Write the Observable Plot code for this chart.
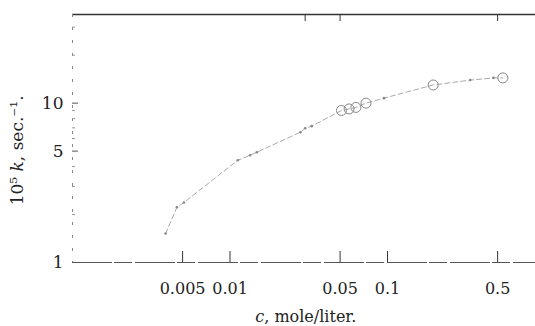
<!DOCTYPE html>
<html>
<head>
<meta charset="utf-8">
<script src="https://cdn.jsdelivr.net/npm/d3@7"></script>
<script src="https://cdn.jsdelivr.net/npm/@observablehq/plot@0.6"></script>
<style>
  html, body { margin: 0; padding: 0; background: #fff; }
  #chart svg { display: block; }
</style>
</head>
<body>
<div id="chart"></div>
<script>
// ---- data ----
const xDomain = [0.001, 0.87];
const yDomain = [1, 36];
const xTickValues = [0.005, 0.01, 0.05, 0.1, 0.5];
const xTickLabels = ["0.005", "0.01", "0.05", "0.1", "0.5"];
const xTopTicks = [0.03, 0.05, 0.5];
const yTickValues = [1, 5, 10];
const yTickLabels = ["1", "5", "10"];
const yMinorTicks = [2, 3, 4, 6, 7, 8, 9, 20, 30];

// small points (dots)
const dotC = [0.0039, 0.0046, 0.0051, 0.0112, 0.0134, 0.0148, 0.028, 0.030, 0.033, 0.095, 0.335, 0.47];
const dotK = [1.52, 2.22, 2.38, 4.38, 4.71, 4.92, 6.57, 6.96, 7.17, 10.75, 13.95, 14.4];
// open circles
const circC = [0.051, 0.057, 0.063, 0.073, 0.195, 0.54];
const circK = [9.0, 9.2, 9.4, 10.0, 13.0, 14.4];

const dots = dotC.map((c, i) => ({c, k: dotK[i]}));
const circles = circC.map((c, i) => ({c, k: circK[i]}));
const all = [...dots, ...circles].sort((a, b) => a.c - b.c);
const xTicks = xTickValues.map((v, i) => ({v, label: xTickLabels[i]}));
const yTicks = yTickValues.map((v, i) => ({v, label: yTickLabels[i]}));

const W = 535, H = 326, mL = 72, mR = 0, mT = 14, mB = 64;
const plotH = H - mT - mB, plotW = W - mL - mR;
const font = "'DejaVu Serif', 'Liberation Serif', serif";
const ink = "#222";

const chart = Plot.plot({
  width: W,
  height: H,
  marginLeft: mL,
  marginRight: mR,
  marginTop: mT,
  marginBottom: mB,
  style: {fontFamily: font, fontSize: "16px", color: ink, background: "#fff"},
  x: {type: "log", domain: xDomain, axis: null},
  y: {type: "log", domain: yDomain, axis: null},
  marks: [
    // frame lines
    Plot.ruleY([yDomain[0]], {stroke: "#555", strokeWidth: 1.1, strokeDasharray: "40,2,18,3"}),
    Plot.ruleY([yDomain[1]], {stroke: "#333", strokeWidth: 1.3}),
    Plot.ruleX([xDomain[0]], {stroke: "#888", strokeWidth: 1, strokeDasharray: "3,10"}),
    // x ticks (inward) bottom and top
    Plot.tickX(xTicks, {x: "v", insetTop: plotH - 11, stroke: "#333", strokeWidth: 1}),
    Plot.tickX(xTopTicks, {x: d => d, insetBottom: plotH - 7, stroke: "#333", strokeWidth: 1}),
    // y ticks (inward)
    Plot.tickY(yTicks, {y: "v", insetRight: plotW - 6, stroke: "#555", strokeWidth: 1}),
    Plot.tickY(yMinorTicks, {y: d => d, insetRight: plotW - 3, stroke: "#999", strokeWidth: 1}),
    // tick labels
    Plot.text(xTicks, {x: "v", text: "label", frameAnchor: "bottom", dy: 31, fill: ink, fontSize: 16}),
    Plot.text(yTicks, {y: "v", text: "label", frameAnchor: "left", dx: -9, textAnchor: "end", fill: ink, fontSize: 17}),
    // data
    Plot.line(all, {x: "c", y: "k", stroke: "#aaa", strokeWidth: 1, strokeDasharray: "5,3"}),
    Plot.dot(dots, {x: "c", y: "k", r: 1.3, fill: "#888", stroke: "none"}),
    Plot.dot(circles, {x: "c", y: "k", r: 5, fill: "none", stroke: "#888", strokeWidth: 1})
  ]
});

// axis titles with italic parts
const svg = d3.select(chart);
const xt = svg.append("text")
  .attr("x", mL + plotW * 0.505)
  .attr("y", H - 4)
  .attr("text-anchor", "middle")
  .attr("font-family", font)
  .attr("font-size", 16)
  .attr("fill", ink);
xt.append("tspan").attr("font-style", "italic").text("c");
xt.append("tspan").text(", mole/liter.");

const yt = svg.append("text")
  .attr("transform", `translate(23, ${mT + plotH * 0.55}) rotate(-90)`)
  .attr("text-anchor", "middle")
  .attr("font-family", font)
  .attr("font-size", 17)
  .attr("fill", ink);
yt.append("tspan").text("10⁵ ");
yt.append("tspan").attr("font-style", "italic").text("k");
yt.append("tspan").text(", sec.⁻¹.");

document.getElementById("chart").appendChild(chart);
</script>
</body>
</html>
